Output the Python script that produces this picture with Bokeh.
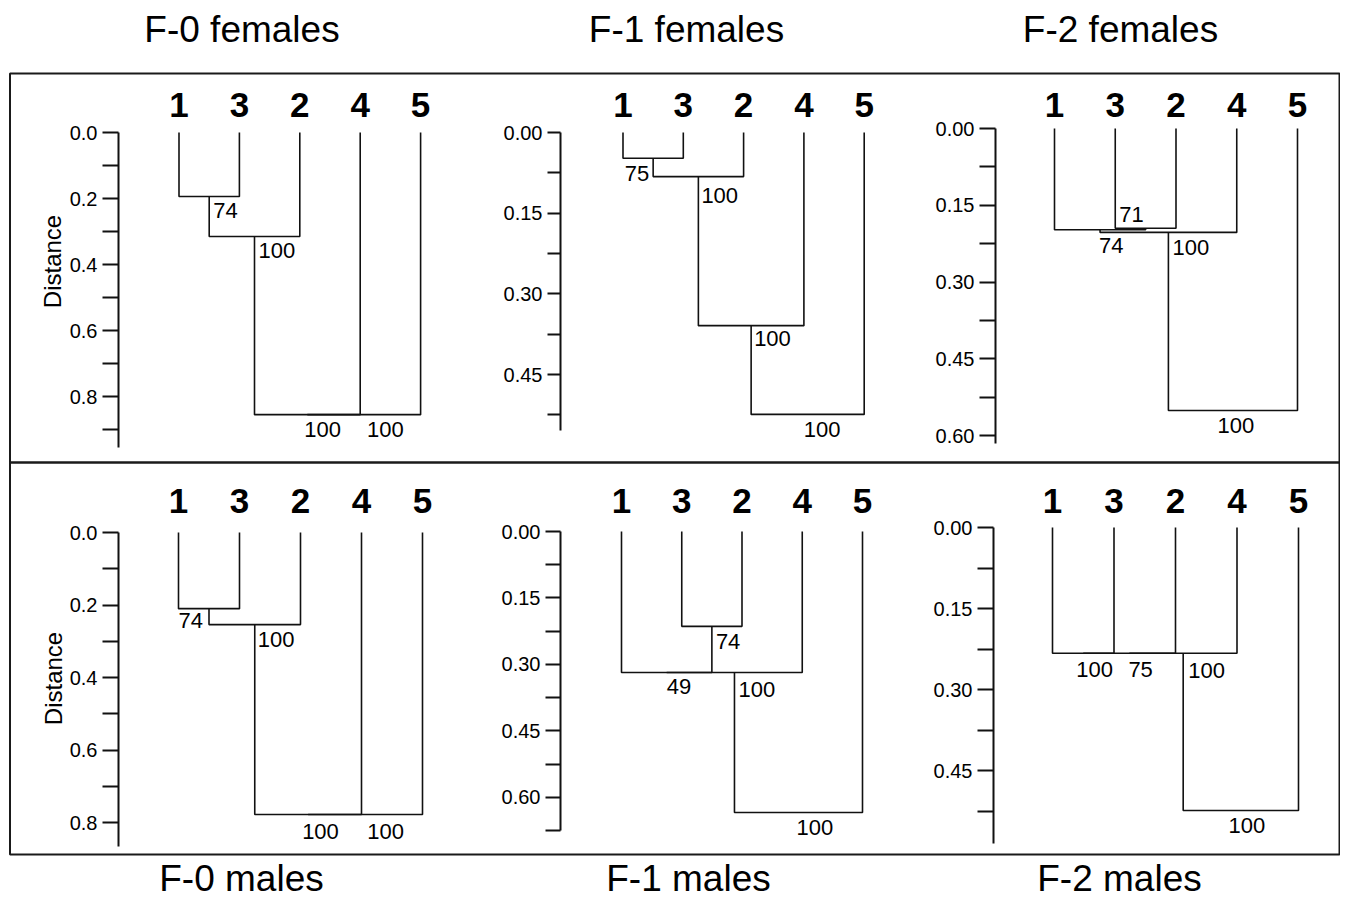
import math
from bokeh.plotting import figure
from bokeh.models import Range1d, LinearAxis, FixedTicker, PrintfTickFormatter
from bokeh.core.properties import value
from bokeh.embed import file_html
from bokeh.resources import INLINE

W, H = 1340, 904
FONT = "Liberation Sans"

# ---------------- data ----------------
leaf_order = ["1", "3", "2", "4", "5"]

titles_top = ["F-0 females", "F-1 females", "F-2 females"]
titles_bottom = ["F-0 males", "F-1 males", "F-2 males"]
distance_title = "Distance"

# F-0 females
f0_fem_left = ["1", "m0", "m1", "m2"]
f0_fem_right = ["3", "2", "4", "5"]
f0_fem_height = [0.194, 0.315, 0.855, 0.855]
f0_fem_support = [74, 100, 100, 100]

# F-1 females
f1_fem_left = ["1", "m0", "m1", "m2"]
f1_fem_right = ["3", "2", "4", "5"]
f1_fem_height = [0.048, 0.082, 0.359, 0.524]
f1_fem_support = [75, 100, 100, 100]

# F-2 females
f2_fem_left = ["3", "1", "m1", "m2"]
f2_fem_right = ["2", "m0", "4", "5"]
f2_fem_height = [0.195, 0.198, 0.203, 0.551]
f2_fem_support = [71, 74, 100, 100]

# F-0 males
f0_mal_left = ["1", "m0", "m1", "m2"]
f0_mal_right = ["3", "2", "4", "5"]
f0_mal_height = [0.210, 0.254, 0.778, 0.778]
f0_mal_support = [74, 100, 100, 100]

# F-1 males
f1_mal_left = ["3", "1", "m1", "m2"]
f1_mal_right = ["2", "m0", "4", "5"]
f1_mal_height = [0.214, 0.318, 0.318, 0.634]
f1_mal_support = [74, 49, 100, 100]

# F-2 males
f2_mal_left = ["1", "m0", "m1", "m2"]
f2_mal_right = ["3", "2", "4", "5"]
f2_mal_height = [0.233, 0.233, 0.233, 0.524]
f2_mal_support = [100, 75, 100, 100]

# axis ticks
ticks_02 = [0.0, 0.2, 0.4, 0.6, 0.8]
minor_02_a = [0.1, 0.3, 0.5, 0.7, 0.9]
minor_02_b = [0.1, 0.3, 0.5, 0.7]
ticks_015_a = [0.0, 0.15, 0.30, 0.45]
ticks_015_b = [0.0, 0.15, 0.30, 0.45, 0.60]
minor_015_a = [0.075, 0.225, 0.375, 0.525]
minor_015_b = [0.075, 0.225, 0.375, 0.525, 0.675]

# ---------------- layout / style (pixels) ----------------
panels = [
    dict(left=f0_fem_left, right=f0_fem_right, height=f0_fem_height, support=f0_fem_support,
         ticks=ticks_02, minor=minor_02_a, fmt="%.1f", bounds=(0, 0.955),
         leaf0=178.5, step=60.4, zero=132, scale=330, axis_x=118, tick_len=16, row=0,
         lab=[("left", 4, 22), ("left", 4, 22), ("left", -3, 23), ("left", 3, 23)]),
    dict(left=f1_fem_left, right=f1_fem_right, height=f1_fem_height, support=f1_fem_support,
         ticks=ticks_015_a, minor=minor_015_a, fmt="%.2f", bounds=(0, 0.554),
         leaf0=622.5, step=60.3, zero=132, scale=538, axis_x=560, tick_len=13, row=0,
         lab=[("right", -4, 23), ("left", 3, 27), ("left", 3, 21), ("left", -4, 23)]),
    dict(left=f2_fem_left, right=f2_fem_right, height=f2_fem_height, support=f2_fem_support,
         ticks=ticks_015_b, minor=minor_015_a, fmt="%.2f", bounds=(0, 0.615),
         leaf0=1054, step=60.75, zero=128, scale=511.7, axis_x=995, tick_len=16, row=0,
         lab=[("right", -2, -6), ("left", -1, 24), ("left", 4, 23), ("center", 3, 23)]),
    dict(left=f0_mal_left, right=f0_mal_right, height=f0_mal_height, support=f0_mal_support,
         ticks=ticks_02, minor=minor_02_b, fmt="%.1f", bounds=(0, 0.866),
         leaf0=178, step=61, zero=532, scale=362.5, axis_x=118, tick_len=16, row=1,
         lab=[("right", -6, 20), ("left", 3, 23), ("left", -6, 25), ("left", 2, 25)]),
    dict(left=f1_mal_left, right=f1_mal_right, height=f1_mal_height, support=f1_mal_support,
         ticks=ticks_015_b, minor=minor_015_b, fmt="%.2f", bounds=(0, 0.675),
         leaf0=621, step=60.25, zero=531, scale=443.3, axis_x=560, tick_len=15, row=1,
         lab=[("left", 4, 23), ("left", 0, 22), ("left", 4, 25), ("left", -2, 23)]),
    dict(left=f2_mal_left, right=f2_mal_right, height=f2_mal_height, support=f2_mal_support,
         ticks=ticks_015_a, minor=minor_015_a, fmt="%.2f", bounds=(0, 0.585),
         leaf0=1052, step=61.5, zero=527, scale=540, axis_x=993, tick_len=16, row=1,
         lab=[("left", -7, 24), ("left", -1, 24), ("left", 5, 25), ("center", 6, 23)]),
]
SUP_SIZE = 22
leaf_center = [104.5, 500.5]
title_x = [[241.5, 686, 1120], [241, 688, 1119]]
title_center = [28.5, 878]
distance_pos = [(52, 261), (53, 678)]
boxes = [(9.5, 1339, 73, 462), (9.5, 1339, 462, 854)]

p = figure(width=W, height=H, x_range=Range1d(0, W), y_range=Range1d(H, 0),
           min_border=0, toolbar_location=None, output_backend="svg",
           x_axis_location=None, y_axis_location=None)
p.outline_line_color = None
p.grid.visible = False
p.background_fill_color = "white"
p.border_fill_color = "white"

# boxes
p.quad(left=[b[0] for b in boxes], right=[b[1] for b in boxes],
       top=[b[2] for b in boxes], bottom=[b[3] for b in boxes],
       fill_color=None, line_color="#1a1a1a", line_width=2)

# titles
for r, names in enumerate([titles_top, titles_bottom]):
    p.text(x=title_x[r], y=[title_center[r]] * 3, text=names,
           text_font=value(FONT), text_font_size="37px", text_align="center",
           text_baseline="middle", text_color="black")

# "Distance" labels
p.text(x=[d[0] for d in distance_pos], y=[d[1] for d in distance_pos],
       text=[distance_title] * 2, angle=math.pi / 2, text_font=value(FONT),
       text_font_size="24px", text_align="center", text_baseline="middle", text_color="black")

xr_dict, yr_dict = {}, {}
for idx, c in enumerate(panels):
    xr, yr = f"x{idx}", f"y{idx}"
    x0 = c["leaf0"]
    s = c["step"]
    xr_dict[xr] = Range1d(-x0 / s, (W - x0) / s)
    z = c["zero"]
    k = c["scale"]
    yr_dict[yr] = Range1d((H - z) / k, -z / k)

    pos = {name: (i, 0.0) for i, name in enumerate(leaf_order)}
    xs, ys = [], []
    groups = {}
    for i, (a, b, h, sup) in enumerate(zip(c["left"], c["right"], c["height"], c["support"])):
        ax_, ah = pos[a]
        bx_, bh = pos[b]
        xs.append([ax_, ax_, bx_, bx_])
        ys.append([ah, h, h, bh])
        nx = (ax_ + bx_) / 2
        pos[f"m{i}"] = (nx, h)
        al, dx, dy = c["lab"][i]
        g = groups.setdefault(al, dict(x=[], y=[], t=[], dx=[], dy=[]))
        g["x"].append(nx); g["y"].append(h); g["t"].append(str(sup))
        g["dx"].append(dx); g["dy"].append(dy - 0.36 * SUP_SIZE)

    p.multi_line(xs, ys, x_range_name=xr, y_range_name=yr,
                 line_color="#111111", line_width=1.6)

    for al, g in groups.items():
        p.text(x=g["x"], y=g["y"], text=g["t"], x_offset=g["dx"], y_offset=g["dy"],
               x_range_name=xr, y_range_name=yr, text_font=value(FONT),
               text_font_size=f"{SUP_SIZE}px", text_align=al, text_baseline="middle",
               text_color="black")

    # leaf labels
    p.text(x=list(range(len(leaf_order))), y=[leaf_center[c["row"]]] * len(leaf_order),
           text=leaf_order, x_range_name=xr, text_font=value(FONT), text_font_size="35px",
           text_font_style="bold", text_align="center", text_baseline="middle",
           text_color="black")

    axis = LinearAxis(x_range_name=xr, y_range_name=yr,
                      fixed_location=(c["axis_x"] - c["leaf0"]) / s,
                      ticker=FixedTicker(ticks=c["ticks"], minor_ticks=c["minor"]),
                      formatter=PrintfTickFormatter(format=c["fmt"]),
                      bounds=c["bounds"])
    axis.major_tick_in = 0
    axis.major_tick_out = c["tick_len"]
    axis.minor_tick_in = 0
    axis.minor_tick_out = c["tick_len"]
    axis.axis_line_width = 2
    axis.axis_line_color = "#111111"
    axis.major_tick_line_width = 2
    axis.major_tick_line_color = "#111111"
    axis.minor_tick_line_width = 2
    axis.minor_tick_line_color = "#111111"
    axis.major_label_text_font = FONT
    axis.major_label_text_font_size = "20px"
    axis.major_label_text_color = "black"
    axis.major_label_standoff = 5
    p.add_layout(axis, "left")

p.extra_x_ranges = xr_dict
p.extra_y_ranges = yr_dict

open("out.html", "w").write(file_html(p, INLINE))
